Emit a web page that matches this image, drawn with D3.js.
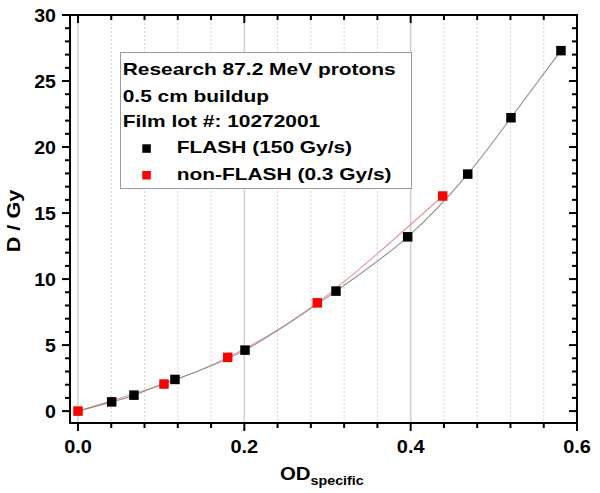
<!DOCTYPE html>
<html>
<head>
<meta charset="utf-8">
<script src="https://cdn.jsdelivr.net/npm/d3@7"></script>
<style>
  html, body { margin: 0; padding: 0; background: #fff; }
  svg { display: block; }
  text { font-family: "Liberation Sans", Arial, sans-serif; font-weight: bold; fill: #000; }
</style>
</head>
<body>
<svg id="chart" width="600" height="493"></svg>
<script>
// ---- data ----
const flashOD   = [0.0405, 0.0673, 0.1166, 0.2008, 0.3102, 0.3964, 0.4686, 0.5206, 0.5807];
const flashDose = [0.70, 1.21, 2.40, 4.62, 9.09, 13.20, 17.95, 22.22, 27.30];
const nonFlashOD   = [0.0, 0.1034, 0.1800, 0.2877, 0.4385];
const nonFlashDose = [0.0, 2.05, 4.07, 8.20, 16.29];
// fit passes through the origin
const flashFitOD   = [0.0].concat(flashOD);
const flashFitDose = [0.0].concat(flashDose);

const xMajorTicks = [0, 0.2, 0.4, 0.6];
const xTickLabels = ["0.0", "0.2", "0.4", "0.6"];
const xMinorTicks = [0.04, 0.08, 0.12, 0.16, 0.24, 0.28, 0.32, 0.36, 0.44, 0.48, 0.52, 0.56];
const yMajorTicks = [0, 5, 10, 15, 20, 25, 30];
const yTickLabels = ["0", "5", "10", "15", "20", "25", "30"];
const yMinorTicks = d3.range(0, 31).filter(v => v % 5 !== 0);

const legendLines = ["Research 87.2 MeV protons", "0.5 cm buildup", "Film lot #: 10272001"];
const seriesNames = ["FLASH (150 Gy/s)", "non-FLASH (0.3 Gy/s)"];
const seriesColors = ["#000000", "#ff0000"];
const fitColors = ["#8e8e8e", "#e89494"];

// ---- layout ----
const L = 70, R = 577, T = 15, B = 423;
const svg = d3.select("#chart");
const x = d3.scaleLinear().domain([-0.0096, 0.6]).range([L, R]);
const y = d3.scaleLinear().domain([-0.9, 30]).range([B, T]);

// grid
const g = svg.append("g");
g.selectAll(".minor").data(xMinorTicks).enter().append("line")
  .attr("x1", d => x(d)).attr("x2", d => x(d)).attr("y1", T).attr("y2", B)
  .attr("stroke", "#d4d4d4").attr("stroke-width", 1).attr("stroke-dasharray", "2,2");
g.selectAll(".major").data(xMajorTicks.slice(0, 3)).enter().append("line")
  .attr("x1", d => x(d)).attr("x2", d => x(d)).attr("y1", T).attr("y2", B)
  .attr("stroke", "#d0d0d0").attr("stroke-width", 1.5);

// fit lines
const lineGen = d3.line().x(d => x(d[0])).y(d => y(d[1])).curve(d3.curveNatural);
svg.append("path").datum(d3.zip(nonFlashOD, nonFlashDose)).attr("d", lineGen)
  .attr("fill", "none").attr("stroke", fitColors[1]).attr("stroke-width", 1.1);
svg.append("path").datum(d3.zip(flashFitOD, flashFitDose)).attr("d", lineGen)
  .attr("fill", "none").attr("stroke", fitColors[0]).attr("stroke-width", 1.1);

// markers
const ms = 9.5;
svg.append("g").selectAll("rect").data(d3.zip(flashOD, flashDose)).enter().append("rect")
  .attr("x", d => x(d[0]) - ms / 2).attr("y", d => y(d[1]) - ms / 2)
  .attr("width", ms).attr("height", ms).attr("fill", seriesColors[0]);
svg.append("g").selectAll("rect").data(d3.zip(nonFlashOD, nonFlashDose)).enter().append("rect")
  .attr("x", d => x(d[0]) - ms / 2).attr("y", d => y(d[1]) - ms / 2)
  .attr("width", ms).attr("height", ms).attr("fill", seriesColors[1]);

// axes frame
const ax = svg.append("g").attr("stroke", "#000");
ax.append("rect").attr("x", L).attr("y", T).attr("width", R - L).attr("height", B - T)
  .attr("fill", "none").attr("stroke-width", 2);
xMajorTicks.forEach(v => {
  ax.append("line").attr("x1", x(v)).attr("x2", x(v)).attr("y1", B).attr("y2", B + 8).attr("stroke-width", 2);
  ax.append("line").attr("x1", x(v)).attr("x2", x(v)).attr("y1", T).attr("y2", T + 8).attr("stroke-width", 2);
});
xMinorTicks.forEach(v => {
  ax.append("line").attr("x1", x(v)).attr("x2", x(v)).attr("y1", B).attr("y2", B + 5).attr("stroke-width", 2);
  ax.append("line").attr("x1", x(v)).attr("x2", x(v)).attr("y1", T).attr("y2", T + 5).attr("stroke-width", 2);
});
yMajorTicks.forEach(v => {
  ax.append("line").attr("x1", L - 8).attr("x2", L).attr("y1", y(v)).attr("y2", y(v)).attr("stroke-width", 2);
  ax.append("line").attr("x1", R - 8).attr("x2", R).attr("y1", y(v)).attr("y2", y(v)).attr("stroke-width", 2);
});
yMinorTicks.forEach(v => {
  ax.append("line").attr("x1", L - 5).attr("x2", L).attr("y1", y(v)).attr("y2", y(v)).attr("stroke-width", 2);
  ax.append("line").attr("x1", R - 5).attr("x2", R).attr("y1", y(v)).attr("y2", y(v)).attr("stroke-width", 2);
});

// tick labels
xMajorTicks.forEach((v, i) => {
  svg.append("text").attr("text-anchor", "middle").style("font-size", "19px")
    .attr("transform", `translate(${x(v)},453) scale(1.05,1)`).text(xTickLabels[i]);
});
yMajorTicks.forEach((v, i) => {
  svg.append("text").attr("text-anchor", "end").style("font-size", "19px")
    .attr("transform", `translate(56,${y(v) + 6.7}) scale(1.03,1)`).text(yTickLabels[i]);
});

// axis titles
const xt = svg.append("text").attr("transform", "translate(280,480) scale(1.16,1)");
xt.append("tspan").style("font-size", "17.6px").text("OD");
xt.append("tspan").style("font-size", "12.3px").attr("dy", 4.5).text("specific");

svg.append("text").attr("text-anchor", "middle").style("font-size", "17.5px")
  .attr("transform", "translate(19.5,221) rotate(-90) scale(1.24,1)").text("D / Gy");

// legend
const lg = svg.append("g");
lg.append("rect").attr("x", 120.5).attr("y", 52.5).attr("width", 291).attr("height", 136)
  .attr("fill", "#fff").attr("stroke", "#9a9a9a").attr("stroke-width", 1);
const lineBase = [75, 101.5, 127.3];
legendLines.forEach((t, i) => {
  lg.append("text").style("font-size", "17px")
    .attr("transform", `translate(122.7,${lineBase[i]}) scale(1.23,1)`).text(t);
});
const serBase = [153.3, 180];
seriesNames.forEach((t, i) => {
  lg.append("rect").attr("x", 142.3).attr("y", serBase[i] - 9).attr("width", 8.5).attr("height", 8.5)
    .attr("fill", seriesColors[i]);
  lg.append("text").style("font-size", "17px")
    .attr("transform", `translate(176.7,${serBase[i]}) scale(1.23,1)`).text(t);
});
</script>
</body>
</html>
